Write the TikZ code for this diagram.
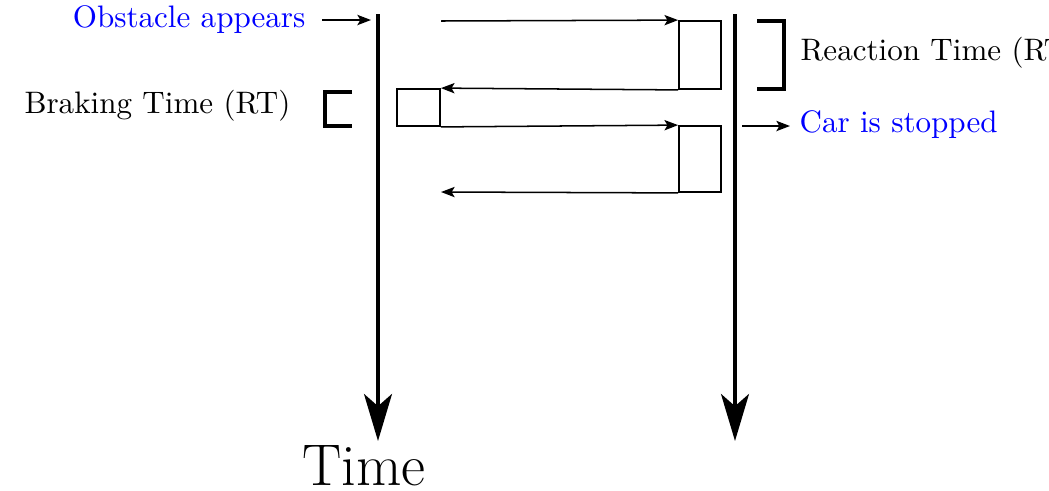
\documentclass[tikz,border=0pt]{standalone}
\usetikzlibrary{arrows.meta}
\begin{document}
\begin{tikzpicture}[x=0.33pt,y=-0.33pt,
  timeline/.style={line width=1.3pt,-{Stealth[length=15.5pt,width=9.2pt,inset=4pt]}},
  msg/.style={line width=0.5pt,-{Stealth[length=4.5pt,width=3.4pt,inset=1pt]}},
  slot/.style={draw,line width=0.6pt,inner sep=0pt},
  bracketline/.style={line width=1.4pt},
  lbl/.style={inner sep=0pt,font=\fontsize{10.25}{12.5}\selectfont},
  note/.style={lbl,text=blue}]
\useasboundingbox (0,0) rectangle (1049,490);
\clip (0,0) rectangle (1049,490);

% two time axes
\coordinate (Ltop) at (378,14);
\coordinate (Lbot) at (378,441);
\coordinate (Rtop) at (735,14);
\coordinate (Rbot) at (735,441);
\draw[timeline] (Ltop) -- (Lbot);
\draw[timeline] (Rtop) -- (Rbot);

% processing slots
\node[slot,minimum width=42*0.33pt,minimum height=68*0.33pt] (box1) at (700,55) {};
\node[slot,minimum width=43*0.33pt,minimum height=37*0.33pt] (box2) at (418.5,107.5) {};
\node[slot,minimum width=42*0.33pt,minimum height=66*0.33pt] (box3) at (700,159) {};

% messages between the axes
\coordinate (m1s) at (441,21);
\coordinate (m4e) at (441,192);
\draw[msg] (m1s) -- (box1.north west);
\draw[msg] (box1.south west) -- (box2.north east);
\draw[msg] (box2.south east) -- (box3.north west);
\draw[msg] (box3.south west) -- (m4e);

% labels
\node[note,anchor=east] (obst) at (306,20) {Obstacle appears};
\coordinate (obstTip) at (371,20);
\draw[msg] ([xshift=16*0.33pt]obst.east) -- (obstTip);

\node[note,anchor=west] (stop) at (799,125) {Car is stopped};
\coordinate (stopFrom) at (742,126);
\draw[msg] (stopFrom) -- ([xshift=-9*0.33pt]stop.west |- stopFrom);

\node[lbl,anchor=west] (react) at (800,53) {Reaction Time (RT)};
\node[lbl,anchor=east] (brake) at (291,106) {Braking Time (RT)};

% brackets
\draw[bracketline] (757,21) -| (784,89) -- (757,89);
\draw[bracketline] (352,92) -| (325,126) -- (352,126);

\node[inner sep=0pt,font=\fontsize{19.4}{23}\selectfont] (time) at (364,466) {Time};
\end{tikzpicture}
\end{document}
